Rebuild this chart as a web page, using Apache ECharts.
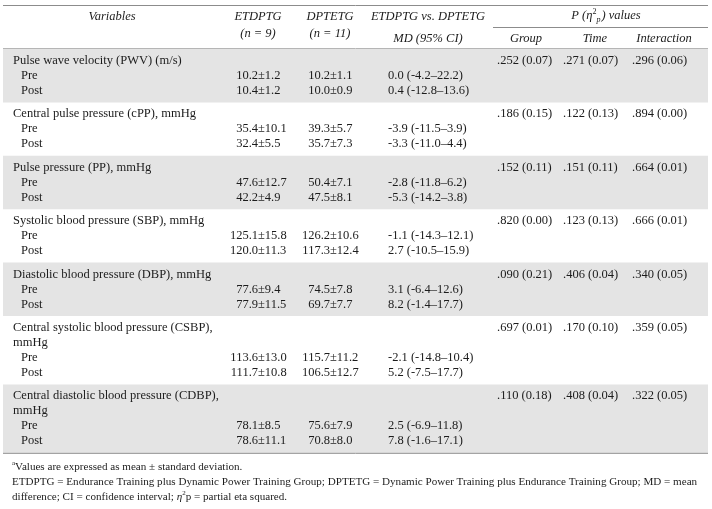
<!DOCTYPE html>
<html>
<head>
<meta charset="utf-8">
<title>Arterial stiffness table</title>
<script src="https://cdn.jsdelivr.net/npm/echarts@6/dist/echarts.min.js"></script>
<style>
  html, body { margin: 0; padding: 0; background: #fff; }
  #chart { width: 712px; height: 509px; }
</style>
</head>
<body>
<div id="chart"></div>
<script>
// table data, one entry per variable
var variables = [
  ['Pulse wave velocity (PWV) (m/s)'],
  ['Central pulse pressure (cPP), mmHg'],
  ['Pulse pressure (PP), mmHg'],
  ['Systolic blood pressure (SBP), mmHg'],
  ['Diastolic blood pressure (DBP), mmHg'],
  ['Central systolic blood pressure (CSBP),', 'mmHg'],
  ['Central diastolic blood pressure (CDBP),', 'mmHg']
];
var etdptgPre  = ['10.2±1.2', '35.4±10.1', '47.6±12.7', '125.1±15.8', '77.6±9.4', '113.6±13.0', '78.1±8.5'];
var etdptgPost = ['10.4±1.2', '32.4±5.5', '42.2±4.9', '120.0±11.3', '77.9±11.5', '111.7±10.8', '78.6±11.1'];
var dptetgPre  = ['10.2±1.1', '39.3±5.7', '50.4±7.1', '126.2±10.6', '74.5±7.8', '115.7±11.2', '75.6±7.9'];
var dptetgPost = ['10.0±0.9', '35.7±7.3', '47.5±8.1', '117.3±12.4', '69.7±7.7', '106.5±12.7', '70.8±8.0'];
var mdPre  = ['0.0 (-4.2–22.2)', '-3.9 (-11.5–3.9)', '-2.8 (-11.8–6.2)', '-1.1 (-14.3–12.1)', '3.1 (-6.4–12.6)', '-2.1 (-14.8–10.4)', '2.5 (-6.9–11.8)'];
var mdPost = ['0.4 (-12.8–13.6)', '-3.3 (-11.0–4.4)', '-5.3 (-14.2–3.8)', '2.7 (-10.5–15.9)', '8.2 (-1.4–17.7)', '5.2 (-7.5–17.7)', '7.8 (-1.6–17.1)'];
var pGroup = ['.252 (0.07)', '.186 (0.15)', '.152 (0.11)', '.820 (0.00)', '.090 (0.21)', '.697 (0.01)', '.110 (0.18)'];
var pTime  = ['.271 (0.07)', '.122 (0.13)', '.151 (0.11)', '.123 (0.13)', '.406 (0.04)', '.170 (0.10)', '.408 (0.04)'];
var pInter = ['.296 (0.06)', '.894 (0.00)', '.664 (0.01)', '.666 (0.01)', '.340 (0.05)', '.359 (0.05)', '.322 (0.05)'];
var timeLabels = ['Pre', 'Post'];
var footLine2 = 'ETDPTG = Endurance Training plus Dynamic Power Training Group; DPTETG = Dynamic Power Training plus Endurance Training Group; MD = mean';

var FAMILY = '"Liberation Serif", "Times New Roman", serif';
var FS = 12.5;
var INK = '#1c1c1c';
var RULE = '#8c8c8c';
var SHADE = '#e4e4e4';
var els = [];

function text(x, y, s, align, italic, size) {
  els.push({
    type: 'text', x: x, y: y, silent: true,
    style: {
      text: s, fill: INK, fontFamily: FAMILY, fontSize: size || FS,
      fontStyle: italic ? 'italic' : 'normal',
      align: align || 'left', verticalAlign: 'middle'
    }
  });
}
function hline(x1, x2, y, color) {
  els.push({
    type: 'line', silent: true,
    shape: { x1: x1, y1: y, x2: x2, y2: y },
    style: { stroke: color || RULE, lineWidth: 1 }
  });
}
// mean±sd lined up on the ± sign
function meanSd(x, y, s) {
  var i = s.indexOf('±');
  text(x, y, s.slice(0, i), 'right');
  text(x, y, s.slice(i), 'left');
}

// header
hline(3, 708, 5.5);
text(112, 17, 'Variables', 'center', true);
text(258, 17, 'ETDPTG', 'center', true);
text(258, 34, '(n = 9)', 'center', true);
text(330, 17, 'DPTETG', 'center', true);
text(330, 34, '(n = 11)', 'center', true);
text(428, 17, 'ETDPTG vs. DPTETG', 'center', true);
text(428, 38.5, 'MD (95% CI)', 'center', true);
els.push({
  type: 'text', x: 606, y: 16, silent: true,
  style: {
    text: '{i|P (η}{sup|2}{sub|p}{i|) values}',
    align: 'center', verticalAlign: 'middle',
    rich: {
      i: { fontFamily: FAMILY, fontSize: FS, fontStyle: 'italic', fill: INK, lineHeight: 16 },
      sup: { fontFamily: FAMILY, fontSize: 8, fill: INK, lineHeight: 16, verticalAlign: 'top' },
      sub: { fontFamily: FAMILY, fontSize: 8, fontStyle: 'italic', fill: INK, lineHeight: 16, verticalAlign: 'bottom', padding: [0, 1, 0, 0] }
    }
  }
});
hline(493, 708, 27.5);
text(526, 38.5, 'Group', 'center', true);
text(595, 38.5, 'Time', 'center', true);
text(664, 38.5, 'Interaction', 'center', true);
hline(3, 708, 48.5, '#b5b5b5');

// body, one band per variable
var lineH = 15, pad = 8.4, bandTop = 49;
variables.forEach(function (v, k) {
  var nLines = v.length + 2;
  var h = nLines * lineH + pad;
  if (k % 2 === 0) {
    els.push({ type: 'rect', silent: true, z: -1, shape: { x: 3, y: bandTop, width: 705, height: h }, style: { fill: SHADE } });
  }
  var y0 = bandTop + pad / 2 + lineH / 2;
  v.forEach(function (s, j) { text(13, y0 + j * lineH, s); });
  text(497, y0, pGroup[k]);
  text(563, y0, pTime[k]);
  text(632, y0, pInter[k]);
  var yPre = y0 + v.length * lineH, yPost = yPre + lineH;
  text(21, yPre, timeLabels[0]);
  text(21, yPost, timeLabels[1]);
  meanSd(258, yPre, etdptgPre[k]);
  meanSd(258, yPost, etdptgPost[k]);
  meanSd(330, yPre, dptetgPre[k]);
  meanSd(330, yPost, dptetgPost[k]);
  text(388, yPre, mdPre[k]);
  text(388, yPost, mdPost[k]);
  bandTop += h;
});
hline(3, 708, bandTop + 0.5);

// footnotes
var FF = 11.1;
els.push({
  type: 'text', x: 12, y: bandTop + 14, silent: true,
  style: {
    text: '{sup|a}{n|Values are expressed as mean ± standard deviation.}',
    verticalAlign: 'middle',
    rich: {
      n: { fontFamily: FAMILY, fontSize: FF, fill: INK, lineHeight: 14 },
      sup: { fontFamily: FAMILY, fontSize: 7, fill: INK, lineHeight: 14, verticalAlign: 'top' }
    }
  }
});
text(12, bandTop + 29, footLine2, 'left', false, FF);
els.push({
  type: 'text', x: 12, y: bandTop + 44, silent: true,
  style: {
    text: '{n|difference; CI = confidence interval; }{i|η}{sup|2}{n|p = partial eta squared.}',
    verticalAlign: 'middle',
    rich: {
      n: { fontFamily: FAMILY, fontSize: FF, fill: INK, lineHeight: 14 },
      i: { fontFamily: FAMILY, fontSize: FF, fontStyle: 'italic', fill: INK, lineHeight: 14 },
      sup: { fontFamily: FAMILY, fontSize: 7, fill: INK, lineHeight: 14, verticalAlign: 'top' }
    }
  }
});

var chart = echarts.init(document.getElementById('chart'));
chart.setOption({
  backgroundColor: '#fff',
  animation: false,
  graphic: { elements: els }
});
</script>
</body>
</html>
